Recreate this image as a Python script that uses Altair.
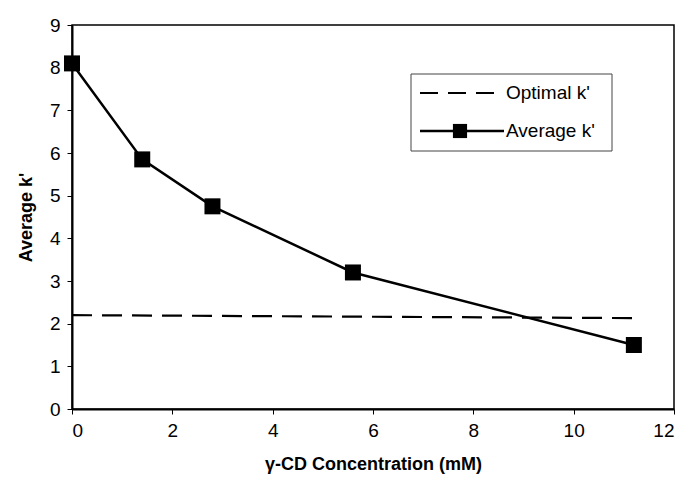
import altair as alt
import pandas as pd

conc = [0, 1.4, 2.8, 5.6, 11.2]
avg_k = [8.1, 5.85, 4.75, 3.2, 1.5]
opt_x = [0, 11.2]
opt_k = [2.2, 2.13]

FONT = "Liberation Sans"
avg_df = pd.DataFrame({"x": conc, "y": avg_k})
opt_df = pd.DataFrame({"x": opt_x, "y": opt_k})
one = pd.DataFrame({"a": [0]})

xs = alt.Scale(domain=[0, 12], nice=False, zero=False)
ys = alt.Scale(domain=[0, 9], nice=False)

xax = alt.Axis(values=[0, 2, 4, 6, 8, 10, 12], grid=False, domainColor="black", domainWidth=2,
               tickColor="black", tickSize=5, labelFontSize=19, labelFont=FONT, labelColor="black",
               labelPadding=7, titleFont=FONT, titleFontSize=18, titleFontWeight="bold",
               titleColor="black", titlePadding=15)
yax = alt.Axis(values=list(range(10)), grid=False, domainColor="black", domainWidth=2,
               tickColor="black", tickSize=5, labelFontSize=19, labelFont=FONT, labelColor="black",
               labelPadding=7, titleFont=FONT, titleFontSize=18, titleFontWeight="bold",
               titleColor="black", titlePadding=14)

opt = alt.Chart(opt_df).mark_line(color="black", strokeWidth=2.2, strokeDash=[20, 10]).encode(
    x=alt.X("x:Q", scale=xs, axis=xax, title="γ-CD Concentration (mM)"),
    y=alt.Y("y:Q", scale=ys, axis=yax, title="Average k'"),
)
line = alt.Chart(avg_df).mark_line(color="black", strokeWidth=2.5).encode(x="x:Q", y="y:Q")
pts = alt.Chart(avg_df).mark_square(color="black", size=256, opacity=1).encode(x="x:Q", y="y:Q")

box = alt.Chart(one).mark_rect(fill="white", stroke="#444", strokeWidth=1).encode(
    x=alt.value(339), x2=alt.value(540), y=alt.value(49), y2=alt.value(126))
leg_dash = alt.Chart(one).mark_rule(color="black", strokeWidth=2.2, strokeDash=[18, 10]).encode(
    x=alt.value(348), x2=alt.value(422), y=alt.value(68))
leg_line = alt.Chart(one).mark_rule(color="black", strokeWidth=2.5).encode(
    x=alt.value(348), x2=alt.value(432), y=alt.value(106))
leg_sq = alt.Chart(one).mark_square(color="black", size=200, opacity=1).encode(
    x=alt.value(388), y=alt.value(106))
leg_t1 = alt.Chart(one).mark_text(align="left", baseline="middle", font=FONT, fontSize=19,
                                  color="black").encode(
    x=alt.value(434), y=alt.value(68), text=alt.value("Optimal k'"))
leg_t2 = alt.Chart(one).mark_text(align="left", baseline="middle", font=FONT, fontSize=19,
                                  color="black").encode(
    x=alt.value(434), y=alt.value(106), text=alt.value("Average k'"))

chart = alt.layer(opt, line, pts, box, leg_dash, leg_line, leg_sq, leg_t1, leg_t2).properties(
    width=602, height=384,
    autosize=alt.AutoSizeParams(type="none"),
    padding={"left": 64, "top": 17, "right": 4, "bottom": 70},
    background="white",
).configure_view(stroke="black", strokeWidth=1.5)

chart.save("out.html", embed_options={"renderer": "svg", "actions": False})
